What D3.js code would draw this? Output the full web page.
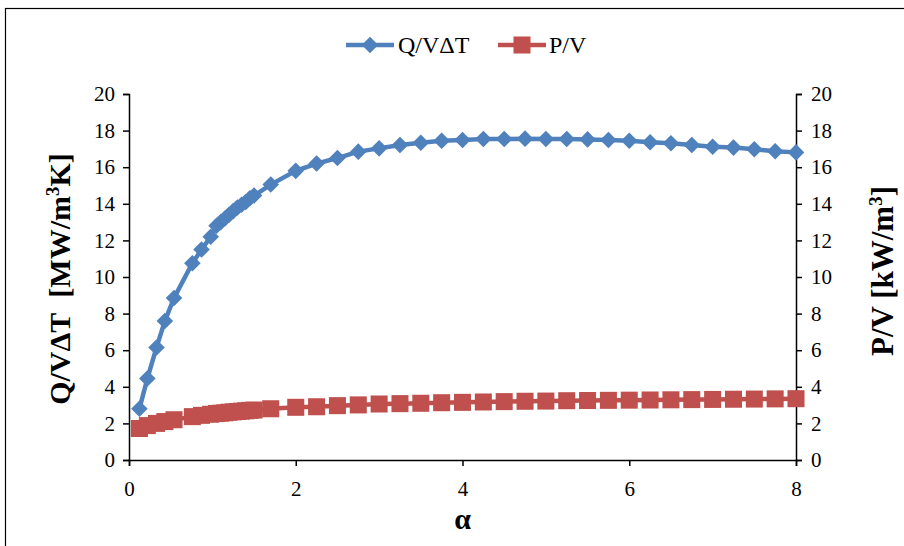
<!DOCTYPE html>
<html><head><meta charset="utf-8">
<script src="https://cdn.jsdelivr.net/npm/d3@7"></script>
<style>body{margin:0;background:#fff}svg{display:block}</style>
</head><body><svg id="c" width="904" height="546"></svg>
<script>
const alpha = [0.125,0.22,0.33,0.43,0.54,0.76,0.87,0.98,1.05,1.1,1.15,1.2,1.25,1.3,1.35,1.4,1.45,1.5,1.7,2.0,2.25,2.5,2.75,3.0,3.25,3.5,3.75,4.0,4.25,4.5,4.75,5.0,5.25,5.5,5.75,6.0,6.25,6.5,6.75,7.0,7.25,7.5,7.75,8.0];
const qv = [2.8,4.45,6.15,7.6,8.85,10.75,11.5,12.2,12.8,13.0,13.2,13.4,13.6,13.8,13.95,14.1,14.3,14.45,15.05,15.8,16.2,16.5,16.85,17.03,17.21,17.34,17.45,17.49,17.54,17.54,17.56,17.54,17.54,17.52,17.49,17.45,17.36,17.31,17.21,17.12,17.07,16.98,16.87,16.81];
const pv = [1.72,1.88,2.0,2.1,2.2,2.37,2.44,2.5,2.54,2.56,2.58,2.61,2.63,2.65,2.67,2.69,2.71,2.73,2.8,2.88,2.91,2.97,3.01,3.06,3.08,3.1,3.13,3.15,3.17,3.19,3.21,3.22,3.24,3.25,3.26,3.27,3.28,3.29,3.3,3.31,3.32,3.33,3.34,3.35];
const xTicks = [0,2,4,6,8];
const yTicks = [0,2,4,6,8,10,12,14,16,18,20];
const seriesNames = ["Q/V\u0394T","P/V"];
const colors = ["#4F81BD","#C0504D"];

const svg = d3.select("#c");
const font = "'Liberation Serif','Times New Roman',serif";
svg.append("rect").attr("x",5.5).attr("y",8.5).attr("width",904).attr("height",546).attr("fill","none").attr("stroke","#000").attr("stroke-width",1.2);

const L=129,R=796,T=94,B=460;
const x = d3.scaleLinear().domain([0,8]).range([L,R]);
const yl = d3.scaleLinear().domain([0,20]).range([B,T]);
const yr = d3.scaleLinear().domain([0,20]).range([B,T]);

function styleAxis(g){
  g.selectAll("path").attr("stroke","#000").attr("stroke-width",1.5);
  g.selectAll("line").attr("stroke","#000").attr("stroke-width",1.5);
  g.selectAll("text").attr("font-family",font).attr("font-size",21).attr("fill","#000");
}
const gx = svg.append("g").attr("transform",`translate(0,${B})`).call(d3.axisBottom(x).tickValues(xTicks).tickSizeOuter(0).tickSize(6).tickPadding(15));
styleAxis(gx);
const gl = svg.append("g").attr("transform",`translate(${L},0)`).call(d3.axisLeft(yl).tickValues(yTicks).tickSizeOuter(0).tickSize(6).tickPadding(8));
styleAxis(gl);
const gr = svg.append("g").attr("transform",`translate(${R},0)`).call(d3.axisRight(yr).tickValues(yTicks).tickSizeOuter(0).tickSize(6).tickPadding(9));
styleAxis(gr);

const data = [qv,pv].map(v=>alpha.map((a,i)=>({a,v:v[i]})));
const line = d3.line().x(d=>x(d.a));
const diamond = d3.symbol().type(d3.symbolDiamond2).size(175);
const square = d3.symbol().type(d3.symbolSquare).size(290);

// P/V first (behind)
svg.append("path").datum(data[1]).attr("d",line.y(d=>yr(d.v))).attr("fill","none").attr("stroke",colors[1]).attr("stroke-width",4.5);
svg.append("g").selectAll("path").data(data[1]).join("path").attr("d",square).attr("transform",d=>`translate(${x(d.a)},${yr(d.v)})`).attr("fill",colors[1]);

svg.append("path").datum(data[0]).attr("d",line.y(d=>yl(d.v))).attr("fill","none").attr("stroke",colors[0]).attr("stroke-width",4.5);
svg.append("g").selectAll("path").data(data[0]).join("path").attr("d",diamond).attr("transform",d=>`translate(${x(d.a)},${yl(d.v)})`).attr("fill",colors[0]);

// axis titles
svg.append("text").attr("x",(L+R)/2).attr("y",529).attr("text-anchor","middle").attr("font-family",font).attr("font-weight","bold").attr("font-size",30).text("\u03B1");
const lt = svg.append("text").attr("transform","translate(70,279) rotate(-90)").attr("text-anchor","middle").attr("font-family",font).attr("font-weight","bold").attr("font-size",30);
lt.append("tspan").text("Q/V\u0394T\u00A0\u00A0[MW/m");
lt.append("tspan").attr("font-size",19).attr("dy",-11).text("3");
lt.append("tspan").attr("dy",11).text("K]");
const rt = svg.append("text").attr("transform","translate(893,271) rotate(-90)").attr("text-anchor","middle").attr("font-family",font).attr("font-weight","bold").attr("font-size",31);
rt.append("tspan").text("P/V [kW/m");
rt.append("tspan").attr("font-size",19).attr("dy",-11).text("3");
rt.append("tspan").attr("dy",11).text("]");

// legend
const leg = [{x0:346,tx:398},{x0:498,tx:549}];
leg.forEach((l,i)=>{
  svg.append("line").attr("x1",l.x0).attr("x2",l.x0+48).attr("y1",45).attr("y2",45).attr("stroke",colors[i]).attr("stroke-width",4.5);
  svg.append("path").attr("d",i===0?diamond():square()).attr("transform",`translate(${l.x0+24},45)`).attr("fill",colors[i]);
  svg.append("text").attr("x",l.tx).attr("y",53).attr("font-family",font).attr("font-size",24).text(seriesNames[i]);
});
</script></body></html>
